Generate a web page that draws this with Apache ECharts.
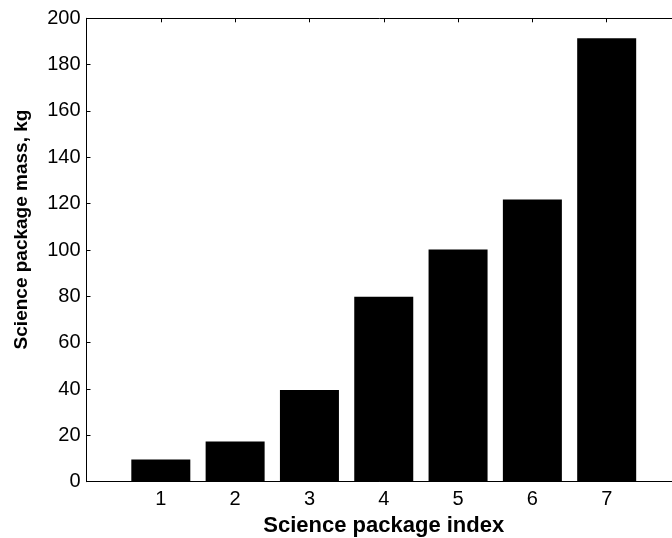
<!DOCTYPE html>
<html>
<head>
<meta charset="utf-8">
<script src="https://cdn.jsdelivr.net/npm/echarts@6/dist/echarts.min.js"></script>
<style>
html,body{margin:0;padding:0;background:#fff;}
#chart{width:672px;height:538px;}
</style>
</head>
<body>
<div id="chart"></div>
<script>
var packageIndex = [1, 2, 3, 4, 5, 6, 7];
var packageMass = [9.6, 17.3, 39.6, 79.8, 100.2, 121.8, 191.4];
var yTicks = [0, 20, 40, 60, 80, 100, 120, 140, 160, 180, 200];
var xLabel = 'Science package index';
var yLabel = 'Science package mass, kg';

var FONT = '"Liberation Sans", Arial, Helvetica, sans-serif';
var chart = echarts.init(document.getElementById('chart'), null, {renderer: 'canvas'});

var seriesData = packageIndex.map(function (x, i) { return [x, packageMass[i]]; });

chart.setOption({
  backgroundColor: '#ffffff',
  animation: false,
  grid: {left: 86.5, top: 18.3, right: -9, bottom: 56.3, containLabel: false, outerBoundsMode: 'none'},
  xAxis: [{
    type: 'value',
    position: 'bottom',
    min: 0, max: 8, interval: 1,
    name: xLabel,
    nameLocation: 'middle',
    nameGap: 33,
    nameTextStyle: {fontFamily: FONT, fontWeight: 'bold', fontSize: 22, color: '#000'},
    axisLine: {show: true, onZero: false, lineStyle: {color: '#000', width: 1}},
    axisTick: {show: true, inside: true, length: 4, lineStyle: {color: '#000'}},
    axisLabel: {
      fontFamily: FONT, fontSize: 20, color: '#000', margin: 8,
      formatter: function (v) { return packageIndex.indexOf(v) >= 0 ? String(v) : ''; }
    },
    splitLine: {show: false}
  }, {
    type: 'value',
    position: 'top',
    min: 0, max: 8, interval: 1,
    axisLine: {show: true, onZero: false, lineStyle: {color: '#000', width: 1}},
    axisTick: {show: true, inside: true, length: 4, lineStyle: {color: '#000'}},
    axisLabel: {show: false},
    splitLine: {show: false}
  }],
  yAxis: {
    type: 'value',
    min: yTicks[0], max: yTicks[yTicks.length - 1], interval: yTicks[1] - yTicks[0],
    name: yLabel,
    nameLocation: 'middle',
    nameGap: 55,
    nameTextStyle: {fontFamily: FONT, fontWeight: 'bold', fontSize: 19, color: '#000', padding: [0, 0, 0, 41]},
    axisLine: {show: true, onZero: false, lineStyle: {color: '#000', width: 1}},
    axisTick: {show: true, inside: true, length: 4, lineStyle: {color: '#000'}},
    axisLabel: {fontFamily: FONT, fontSize: 20, color: '#000', margin: 6},
    splitLine: {show: false}
  },
  series: [{
    type: 'bar',
    xAxisIndex: 0,
    data: seriesData,
    barWidth: 59,
    itemStyle: {color: '#000'},
    silent: true
  }]
});
</script>
</body>
</html>
